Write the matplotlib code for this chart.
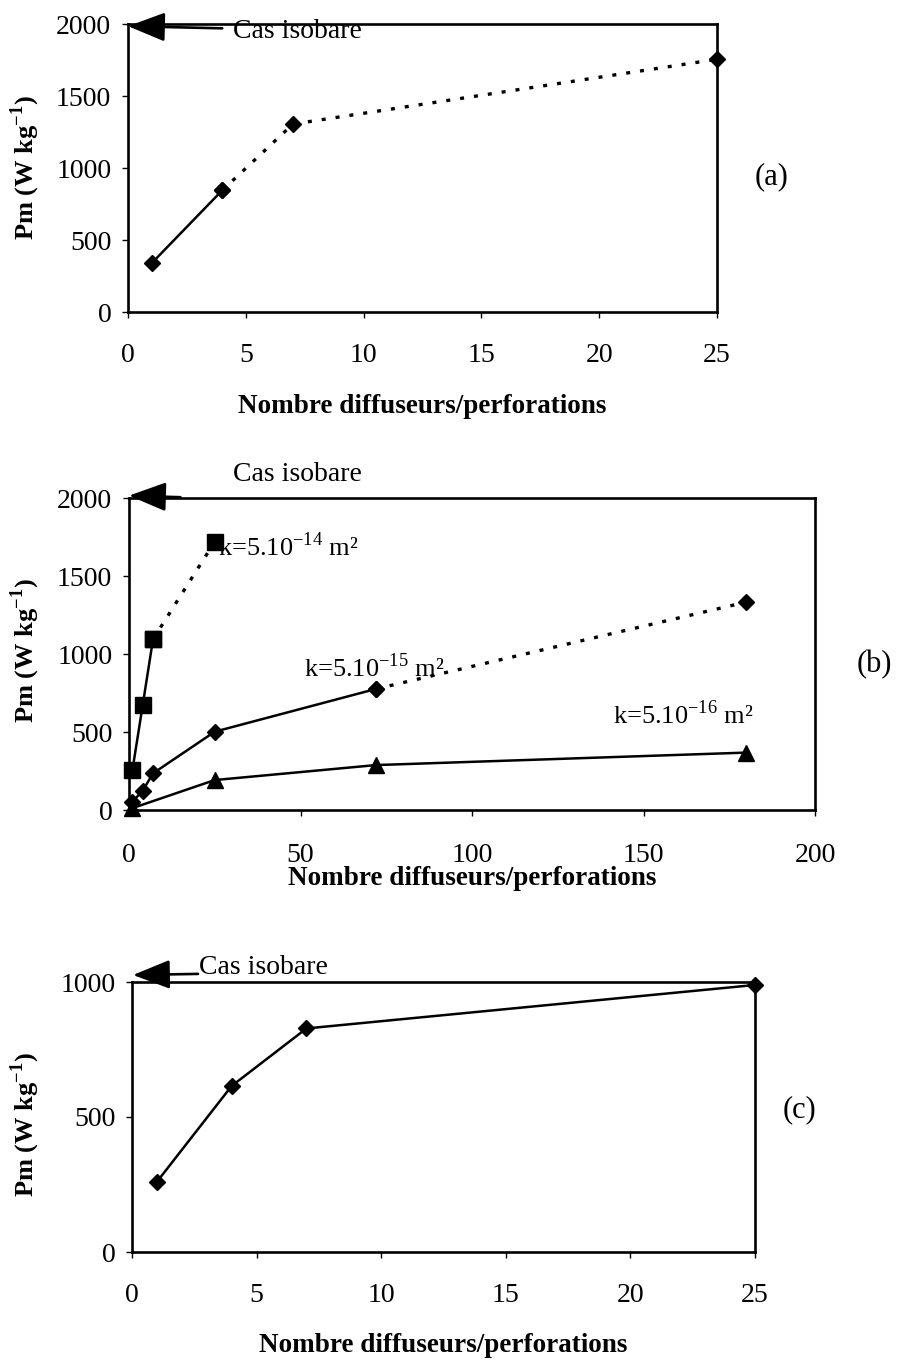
import matplotlib
matplotlib.use('Agg')
import matplotlib.pyplot as plt

plt.rcParams['font.family'] = ['Liberation Serif', 'DejaVu Serif']
plt.rcParams['mathtext.fontset'] = 'custom'
plt.rcParams['mathtext.rm'] = 'Liberation Serif'
plt.rcParams['mathtext.bf'] = 'Liberation Serif:bold'

# panel (a)
a_x = [1, 4, 7, 25]
a_y = [338, 845, 1305, 1755]
a_solid_end = 1          # index where the dotted part begins

# panel (b)
b_sq_x = [1, 4, 7, 25]
b_sq_y = [256, 673, 1094, 1720]
b_sq_solid_end = 2
b_di_x = [1, 4, 7, 25, 72, 180]
b_di_y = [53, 124, 235, 502, 776, 1333]
b_di_solid_end = 4
b_tr_x = [1, 25, 72, 180]
b_tr_y = [12, 192, 288, 368]

# panel (c)
c_x = [1, 4, 7, 25]
c_y = [260, 615, 828, 989]

isobare_a = 2000
isobare_b = 2000
isobare_c = 1000

xlabel = 'Nombre diffuseurs/perforations'
ylabel = r'Pm (W kg$^{\mathbf{-1}}$)'

W, H = 898, 1365
fig = plt.figure(figsize=(W / 100, H / 100), dpi=100)


def box(l, t, r, b):
    return [l / W, 1 - b / H, (r - l) / W, (b - t) / H]


ax_a = fig.add_axes(box(128, 24, 717, 312))
ax_b = fig.add_axes(box(129, 498, 815, 810))
ax_c = fig.add_axes(box(132, 982, 755, 1252))

DOT = (0, (1.2, 3.0))
LW = 1.8


def style(ax, xlim, ylim, xticks, yticks, xlab_y, ylab_x, ylab_y):
    ax.set_xlim(*xlim)
    ax.set_ylim(*ylim)
    ax.set_xticks(xticks)
    ax.set_yticks(yticks)
    for s in ax.spines.values():
        s.set_linewidth(1.9)
    ax.tick_params(direction='out', length=4, width=1, labelsize=20)
    ax.tick_params(axis='x', pad=18)
    ax.tick_params(axis='y', pad=8)
    ax.set_xlabel(xlabel, fontsize=19.5, fontweight='bold')
    ax.set_ylabel(ylabel, fontsize=19, fontweight='bold')
    ax.xaxis.set_label_coords(0.5, xlab_y)
    ax.yaxis.set_label_coords(ylab_x, ylab_y)


def two_part(ax, xs, ys, k, marker, ms):
    ax.plot(xs[:k + 1], ys[:k + 1], color='black', lw=LW, marker=marker,
            ms=ms, clip_on=False, zorder=3)
    ax.plot(xs[k:], ys[k:], color='black', lw=2.4, ls=DOT, marker=marker,
            ms=ms, clip_on=False, zorder=3)


def isobare(ax, tip, tail, text_xy, ha='left'):
    ax.annotate('', xy=tip, xytext=tail,
                arrowprops=dict(arrowstyle='-|>,head_length=2.3,head_width=0.9',
                                mutation_scale=10, color='black', lw=1.9,
                                shrinkA=0, shrinkB=0),
                annotation_clip=False)
    ax.text(*text_xy, 'Cas isobare', fontsize=20, ha=ha, va='center',
            clip_on=False)


# (a)
style(ax_a, (0, 25), (0, 2000), [0, 5, 10, 15, 20, 25], [0, 500, 1000, 1500, 2000],
      -0.285, -0.146, 0.5)
two_part(ax_a, a_x, a_y, a_solid_end, 'D', 8.5)
isobare(ax_a, (0, isobare_a - 15), (4.0, isobare_a - 30), (4.45, isobare_a - 55))
ax_a.text(1.093, 0.47, '(a)', transform=ax_a.transAxes, fontsize=22,
          ha='center', va='center')

# (b)
style(ax_b, (0, 200), (0, 2000), [0, 50, 100, 150, 200], [0, 500, 1000, 1500, 2000],
      -0.18, -0.127, 0.51)
ax_b.tick_params(axis='x', pad=20)
two_part(ax_b, b_sq_x, b_sq_y, b_sq_solid_end, 's', 11)
two_part(ax_b, b_di_x, b_di_y, b_di_solid_end, 'D', 8.5)
ax_b.plot(b_tr_x, b_tr_y, color='black', lw=LW, marker='^', ms=11,
          clip_on=False, zorder=3)
isobare(ax_b, (0, isobare_b + 15), (15, isobare_b + 5), (49, isobare_b + 150),
        ha='center')
ax_b.text(26, 1690, r'k=5.10$^{-14}$ m²', fontsize=19, va='center')
ax_b.text(51, 910, r'k=5.10$^{-15}$ m²', fontsize=19, va='center')
ax_b.text(141, 610, r'k=5.10$^{-16}$ m²', fontsize=19, va='center')
ax_b.text(1.087, 0.465, '(b)', transform=ax_b.transAxes, fontsize=22,
          ha='center', va='center')

# (c)
style(ax_c, (0, 25), (0, 1000), [0, 5, 10, 15, 20, 25], [0, 500, 1000],
      -0.30, -0.144, 0.47)
ax_c.plot(c_x, c_y, color='black', lw=LW, marker='D', ms=8.5, clip_on=False,
          zorder=3)
isobare(ax_c, (0.04, isobare_c + 26), (2.65, isobare_c + 30), (2.7, isobare_c + 55))
ax_c.text(1.072, 0.526, '(c)', transform=ax_c.transAxes, fontsize=22,
          ha='center', va='center')

fig.savefig('out.png', dpi=100)
